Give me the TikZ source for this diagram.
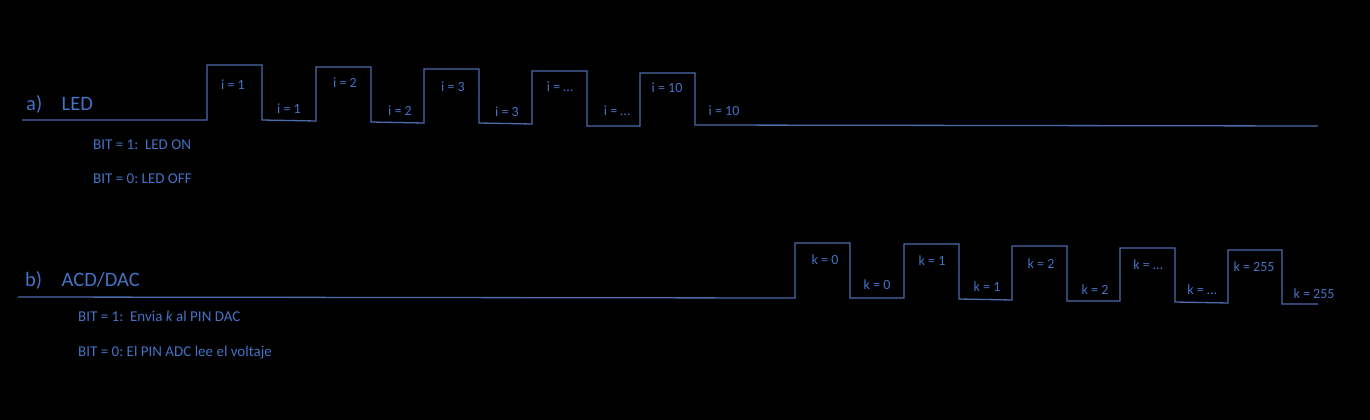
\documentclass[tikz,border=0pt]{standalone}
\usepackage{fontspec}
\setmainfont{Carlito}
\frenchspacing
\definecolor{txtblue}{RGB}{68,114,196}
\definecolor{lineblue}{RGB}{76,108,170}
\begin{document}
\begin{tikzpicture}[x=1pt,y=-1pt,
  wave/.style={draw=lineblue,line width=1.3pt,line join=miter},
  lbl/.style={text=txtblue,font=\fontsize{14}{16}\selectfont,anchor=base,inner sep=0pt},
  note/.style={text=txtblue,font=\fontsize{15}{17}\selectfont,anchor=base west,inner sep=0pt},
  head/.style={text=txtblue,font=\fontsize{20.5}{24}\selectfont,anchor=base west,inner sep=0pt}]
\fill[black] (0,0) rectangle (1370,420);
\useasboundingbox (0,0) rectangle (1370,420);
% waveform a
\draw[wave] (22,120) -- (207,120) -- (207,65) -- (262,65) -- (262,120) -- (316,121)
  -- (316,67) -- (371,67) -- (371,122) -- (424,123) -- (424,69) -- (479,69)
  -- (479,123) -- (532,124) -- (532,71) -- (587,71) -- (587,126) -- (640,126)
  -- (640,73) -- (695,73) -- (695,125) -- (1318,126);
% waveform b
\draw[wave] (18,297) -- (795,298) -- (795,243) -- (850,243) -- (850,298) -- (904,298)
  -- (904,244) -- (959,244) -- (959,299) -- (1012,300) -- (1012,246) -- (1067,246)
  -- (1067,301) -- (1120,301) -- (1120,248) -- (1175,248) -- (1175,302) -- (1228,303)
  -- (1228,250) -- (1282,250) -- (1282,304) -- (1318,304);
% headings
\node[head] (ha) at (26,110) {a)\hspace{0.95em}LED};
\node[head] (hb) at (25,286) {b)\hspace{0.95em}ACD/DAC};
% notes
\node[note] (n1) at (93,149) {BIT = 1:\ \ LED ON};
\node[note] (n2) at (93,183) {BIT = 0: LED OFF};
\node[note] (n3) at (78,321.5) {BIT = 1:\ \ Envia \textit{k} al PIN DAC};
\node[note] (n4) at (78,356.5) {BIT = 0: El PIN ADC lee el voltaje};
% i labels
\node[lbl] (i1h) at (233,89) {i = 1};
\node[lbl] (i1l) at (289,113) {i = 1};
\node[lbl] (i2h) at (345,87) {i = 2};
\node[lbl] (i2l) at (400,115.5) {i = 2};
\node[lbl] (i3h) at (453,91.5) {i = 3};
\node[lbl] (i3l) at (507,116.5) {i = 3};
\node[lbl] (idh) at (560,91) {i = \dots};
\node[lbl] (idl) at (617,115.5) {i = \dots};
\node[lbl] (i10h) at (667,92.5) {i = 10};
\node[lbl] (i10l) at (724,115.5) {i = 10};
% k labels
\node[lbl] (k0h) at (825,264) {k = 0};
\node[lbl] (k0l) at (877,289) {k = 0};
\node[lbl] (k1h) at (932,265.7) {k = 1};
\node[lbl] (k1l) at (987,291.5) {k = 1};
\node[lbl] (k2h) at (1041,268) {k = 2};
\node[lbl] (k2l) at (1095,294) {k = 2};
\node[lbl] (kdh) at (1148,269) {k = \dots};
\node[lbl] (kdl) at (1202,294) {k = \dots};
\node[lbl] (k255h) at (1254,271) {k = 255};
\node[lbl] (k255l) at (1314,298) {k = 255};
\end{tikzpicture}
\end{document}
